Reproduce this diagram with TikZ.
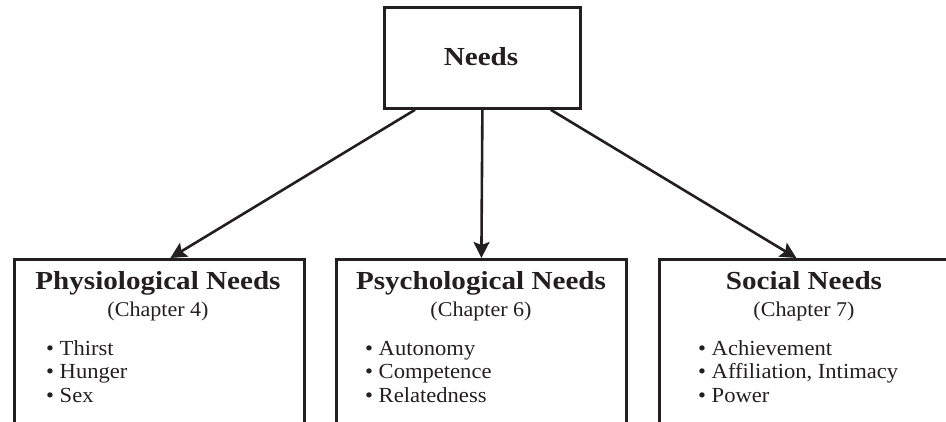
\documentclass[tikz,border=0pt]{standalone}
\usepackage{fontspec}
\setmainfont{Liberation Serif}
\newfontfamily\headfont{Liberation Serif}[FakeStretch=1.12]
\newfontfamily\bodyfont{Liberation Serif}[FakeStretch=1.05]
\usetikzlibrary{arrows.meta,calc}
\definecolor{ink}{HTML}{231F20}
\tikzset{
  box/.style={draw=ink, line width=2.8pt, rectangle, inner sep=0pt, anchor=north west},
  arr/.style={draw=ink, line width=2.6pt, -{Stealth[length=16pt,width=16pt,inset=3pt]}},
  rootlabel/.style={anchor=base, inner sep=0pt, text=ink, font=\headfont\bfseries\fontsize{26}{26}\selectfont},
  title/.style={anchor=base, inner sep=0pt, text=ink, font=\headfont\bfseries\fontsize{26}{26}\selectfont},
  chapter/.style={anchor=base, inner sep=0pt, text=ink, font=\bodyfont\fontsize{21}{21}\selectfont},
  item/.style={anchor=base west, inner sep=0pt, text=ink, font=\bodyfont\fontsize{21.5}{21.5}\selectfont},
}
\begin{document}
\begin{tikzpicture}[x=1pt, y=-1pt]
  \useasboundingbox (0,0) rectangle (946,421);
  \clip (0,0) rectangle (946,421);

  % top box
  \node[box, minimum width=196pt, minimum height=101pt] (needs) at (383,6) {};
  \node[rootlabel] (needslabel) at (481,65) {Needs};

  % three category boxes, running past the lower edge
  \node[box, minimum width=290pt, minimum height=200pt] (phys) at (13,258) {};
  \node[box, minimum width=290pt, minimum height=200pt] (psych) at (335,258) {};
  \node[box, minimum width=290pt, minimum height=200pt] (social) at (658,258) {};

  % headings
  \node[title] (physT) at (158,289) {Physiological Needs};
  \node[chapter] (physC) at (158,316) {(Chapter 4)};
  \node[title] (psychT) at (481,289) {Psychological Needs};
  \node[chapter] (psychC) at (481,316) {(Chapter 6)};
  \node[title] (socialT) at (804,289) {Social Needs};
  \node[chapter] (socialC) at (804,316) {(Chapter 7)};

  % bullet lists
  \node[item] (p1) at (46,355) {\textbullet\ Thirst};
  \node[item] (p2) at (46,378.5) {\textbullet\ Hunger};
  \node[item] (p3) at (46,402) {\textbullet\ Sex};
  \node[item] (s1) at (365,355) {\textbullet\ Autonomy};
  \node[item] (s2) at (365,378.5) {\textbullet\ Competence};
  \node[item] (s3) at (365,402) {\textbullet\ Relatedness};
  \node[item] (o1) at (698,355) {\textbullet\ Achievement};
  \node[item] (o2) at (698,378.5) {\textbullet\ Affiliation, Intimacy};
  \node[item] (o3) at (698,402) {\textbullet\ Power};

  % connectors
  \draw[arr] ($(needs.south west)+(32,0)$) -- ($(phys.north)+(11,0)$);
  \draw[arr] (needs.south) -- (psych.north);
  \draw[arr] ($(needs.south east)+(-31,0)$) -- ($(social.north)+(-8,0)$);
\end{tikzpicture}
\end{document}
